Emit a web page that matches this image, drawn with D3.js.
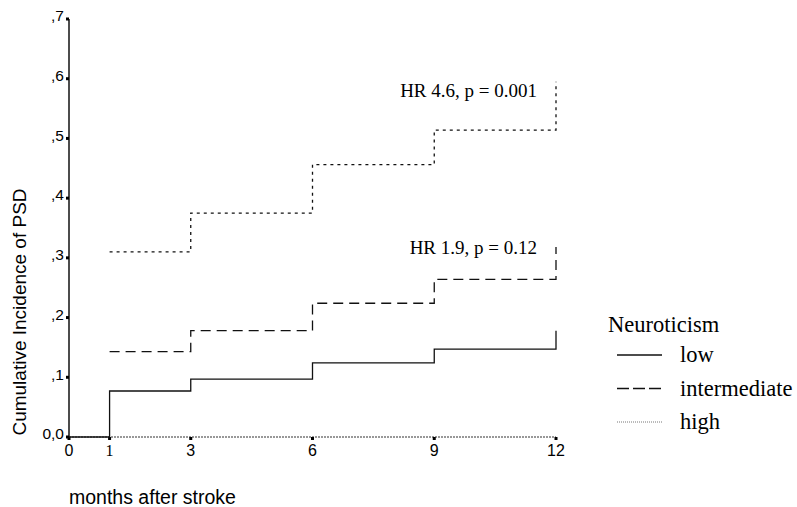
<!DOCTYPE html>
<html>
<head>
<meta charset="utf-8">
<script src="https://cdn.jsdelivr.net/npm/d3@7"></script>
<style>
  body { margin: 0; background: #fff; }
  svg { display: block; }
</style>
</head>
<body>
<svg width="797" height="507"></svg>
<script>
// months where the curves step
const months = [0, 1, 3, 6, 9, 12];
// cumulative incidence of PSD per neuroticism group
const lowVals = [0, 0.077, 0.097, 0.124, 0.147, 0.178];
const intermediateVals = [null, 0.143, 0.178, 0.224, 0.264, 0.318];
const highVals = [null, 0.310, 0.375, 0.456, 0.514, 0.595];

const groups = ["low", "intermediate", "high"];
const yTicks = [0, 0.1, 0.2, 0.3, 0.4, 0.5, 0.6, 0.7];
const yTickLabels = ["0,0", ",1", ",2", ",3", ",4", ",5", ",6", ",7"];
const xTicks = [0, 1, 3, 6, 9, 12];

const notes = [
    { text: "HR 4.6, p = 0.001", x: 12, y: 0.57 },
    { text: "HR 1.9, p = 0.12", x: 12, y: 0.307 }
];

const svg = d3.select("svg");

const x = d3.scaleLinear().domain([0, 12]).range([69, 556]);
const y = d3.scaleLinear().domain([0, 0.7]).range([437, 19]);

// dash patterns for the three curves
const dashes = { low: null, intermediate: "10,6", high: "3,4" };
const legendDashes = { low: null, intermediate: "12,4", high: "1,1" };
const series = { low: lowVals, intermediate: intermediateVals, high: highVals };

const line = d3.line()
    .defined(d => d[1] != null)
    .x(d => x(d[0]))
    .y(d => y(d[1]))
    .curve(d3.curveStepAfter);

/////// AXES ///////

// y axis
svg.append("line")
    .attr("x1", x(0)).attr("x2", x(0))
    .attr("y1", y(0)).attr("y2", y(0.7))
    .attr("stroke", "#111").attr("stroke-width", 1.5);

svg.selectAll(".ytick")
    .data(yTicks)
    .enter().append("rect")
    .attr("class", "ytick")
    .attr("x", x(0) - 3)
    .attr("y", d => y(d) - 1.5)
    .attr("width", 3)
    .attr("height", 3)
    .attr("fill", "#000");

svg.selectAll(".ylab")
    .data(yTicks)
    .enter().append("text")
    .attr("class", "ylab")
    .attr("x", x(0) - 5)
    .attr("y", d => y(d))
    .attr("dy", "0.15em")
    .attr("text-anchor", "end")
    .style("font-family", "Liberation Sans, Arial, sans-serif")
    .style("font-size", "15.5px")
    .text((d, i) => yTickLabels[i]);

// x axis
svg.append("line")
    .attr("x1", x(0)).attr("x2", x(12))
    .attr("y1", y(0)).attr("y2", y(0))
    .attr("stroke", "#333").attr("stroke-width", 1.2)
    .attr("stroke-dasharray", "2,1");

svg.selectAll(".xtick")
    .data(xTicks)
    .enter().append("rect")
    .attr("class", "xtick")
    .attr("x", d => x(d) - 1.5)
    .attr("y", y(0))
    .attr("width", 3)
    .attr("height", 3)
    .attr("fill", "#000");

svg.selectAll(".xlab")
    .data(xTicks)
    .enter().append("text")
    .attr("class", "xlab")
    .attr("x", d => x(d))
    .attr("y", y(0) + 19)
    .attr("text-anchor", "middle")
    .style("font-family", d => d === 1 ? "Liberation Serif, serif" : "Liberation Sans, Arial, sans-serif")
    .style("font-size", "16px")
    .text(d => d);

// axis titles
svg.append("text")
    .attr("transform", "translate(26,312)rotate(-90)")
    .attr("text-anchor", "middle")
    .style("font-family", "Liberation Sans, Arial, sans-serif")
    .style("font-size", "19px")
    .text("Cumulative Incidence of PSD");

svg.append("text")
    .attr("x", 69)
    .attr("y", 504)
    .style("font-family", "Liberation Sans, Arial, sans-serif")
    .style("font-size", "19.5px")
    .text("months after stroke");

/////// CURVES ///////

groups.forEach(function (g) {
    const pts = months.map((m, i) => [m, series[g][i]]);
    svg.append("path")
        .attr("d", line(pts))
        .attr("fill", "none")
        .attr("stroke", "#111")
        .attr("stroke-width", 1.3)
        .attr("stroke-dasharray", dashes[g]);
});

// HR annotations
svg.selectAll(".note")
    .data(notes)
    .enter().append("text")
    .attr("class", "note")
    .attr("x", d => x(d.x) - 19)
    .attr("y", d => y(d.y))
    .attr("text-anchor", "end")
    .style("font-family", "Liberation Serif, Times New Roman, serif")
    .style("font-size", "19px")
    .text(d => d.text);

/////// LEGEND ///////

const legend = svg.append("g").attr("transform", "translate(608,0)");

legend.append("text")
    .attr("x", 0)
    .attr("y", 332)
    .style("font-family", "Liberation Serif, Times New Roman, serif")
    .style("font-size", "22.5px")
    .text("Neuroticism");

const item = legend.selectAll(".item")
    .data(groups)
    .enter().append("g")
    .attr("class", "item")
    .attr("transform", (d, i) => "translate(0," + (355 + i * 33.5) + ")");

item.append("line")
    .attr("x1", 9).attr("x2", 54)
    .attr("y1", 0).attr("y2", 0)
    .attr("stroke", d => d === "high" ? "#777" : "#111")
    .attr("stroke-width", d => d === "high" ? 1 : 1.5)
    .attr("stroke-dasharray", d => legendDashes[d]);

item.append("text")
    .attr("x", 72)
    .attr("y", 7)
    .style("font-family", "Liberation Serif, Times New Roman, serif")
    .style("font-size", "22.5px")
    .text(d => d);
</script>
</body>
</html>
